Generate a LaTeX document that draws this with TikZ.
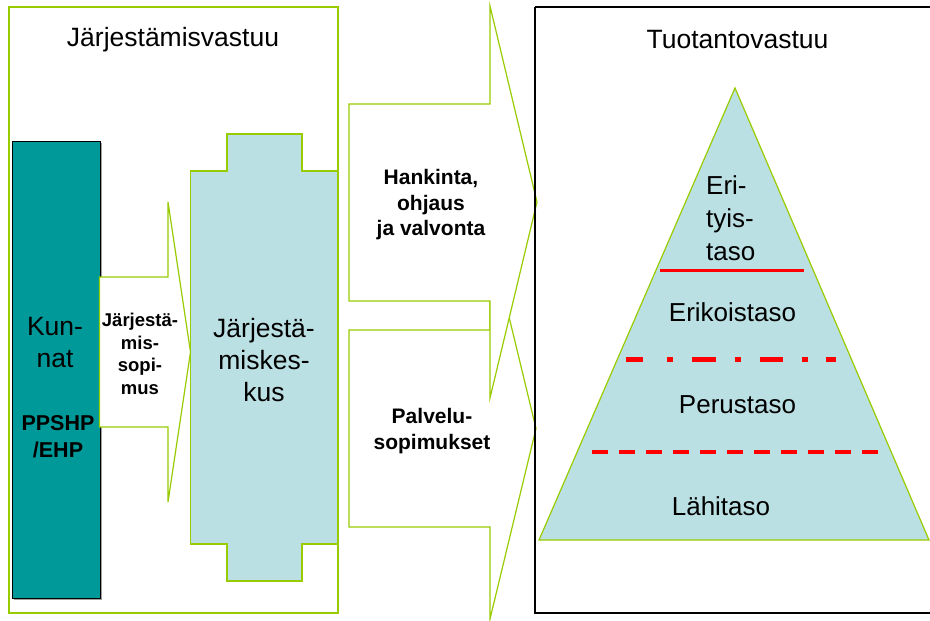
\documentclass[tikz,border=0pt]{standalone}
\usepackage{fontspec}
\setmainfont{Liberation Sans}
\definecolor{lgreen}{HTML}{99CC00}
\definecolor{lblue}{HTML}{BBE0E3}
\definecolor{tealbox}{HTML}{009999}
\definecolor{redline}{HTML}{FF0000}
\newcommand\fsBig{\fontsize{26.5}{32}\selectfont}
\newcommand\fsLab{\fontsize{21}{25.5}\selectfont\bfseries}
\newcommand\fsSmall{\fontsize{18.5}{22.5}\selectfont\bfseries}
\begin{document}
\begin{tikzpicture}[x=1pt,y=-1pt,
  greenline/.style={draw=lgreen,line width=1.2pt,line join=miter},
  arrowshape/.style={greenline,fill=white},
  txt/.style={inner sep=0pt,align=center,text=black}]
\useasboundingbox (0,0) rectangle (930,621);
\fill[white] (0,0) rectangle (930,621);

% left frame
\draw[greenline] (9,7) rectangle (338,613);
\node[txt,font=\fsBig] (jv) at (173,40) {Järjestämisvastuu};

% Kunnat box
\fill[gray!75] (14,143) rectangle (102,600);
\draw[fill=tealbox,draw=black,line width=0.8pt] (12,141) rectangle (100,598);
\node[txt,font=\fsBig] (kunnat) at (55,343) {Kun-\\nat};
\node[txt,font=\fsLab\fontsize{21.5}{27}\selectfont] (ppshp) at (58,437) {PPSHP\\/EHP};

% small arrow
\draw[arrowshape] (99.5,277) -- (168,277) -- (168,202) -- (190.5,352) -- (168,502) -- (168,427) -- (99.5,427) -- cycle;
\node[txt,font=\fsSmall] (jsop) at (140,354) {Järjestä-\\mis-\\sopi-\\mus};

% Jarjestamiskeskus
\draw[greenline,fill=lblue] (190.5,171) -- (227,171) -- (227,134) -- (302,134) -- (302,171) -- (338,171)
  -- (338,544) -- (302,544) -- (302,581) -- (227,581) -- (227,544) -- (190.5,544) -- cycle;
\node[txt,font=\fsBig] (jk) at (264,360) {Järjestä-\\miskes-\\kus};

% big arrows
\draw[arrowshape] (349,330) -- (490,330) -- (490,238) -- (536,428.5) -- (490,619) -- (490,527) -- (349,527) -- cycle;
\draw[arrowshape] (349,104) -- (490,104) -- (490,6) -- (537,202) -- (490,398) -- (490,301) -- (349,301) -- cycle;
\node[txt,font=\fsLab] (hank) at (431,205) {Hankinta,\\ohjaus\\ja valvonta};
\node[txt,font=\fsLab] (palv) at (432,431) {Palvelu-\\sopimukset};

% pyramid
\draw[greenline,fill=lblue] (735,88) -- (539,540) -- (929,540) -- cycle;
\node[txt,font=\fsBig] (tv) at (737.5,40) {Tuotantovastuu};
\node[txt,font=\fsBig\fontsize{26}{33}\selectfont,align=left,anchor=west] (eri) at (706,218) {Eri-\\tyis-\\taso};
\node[txt,font=\fsBig\fontsize{26}{31}\selectfont] (erik) at (732.5,312) {Erikoistaso};
\node[txt,font=\fsBig\fontsize{26}{31}\selectfont] (perus) at (737.5,405) {Perustaso};
\node[txt,font=\fsBig\fontsize{26}{31}\selectfont] (lahi) at (721,506) {Lähitaso};

\coordinate (s1) at (660,270.5); \coordinate (s2) at (804,270.5);
\coordinate (d1) at (626,359); \coordinate (d2) at (836,359);
\coordinate (e1) at (592,452); \coordinate (e2) at (879,452);
\draw[redline,line width=3pt] (s1) -- (s2);
\draw[redline,line width=5pt,dash pattern=on 17pt off 24pt on 6pt off 18.5pt on 24pt off 19pt on 6pt off 19pt on 23pt off 19pt on 6pt off 18pt on 11pt off 50pt] (d1) -- (d2);
\draw[redline,line width=4pt,dash pattern=on 16pt off 11pt] (e1) -- (e2);

% right frame
\draw[black,line width=1.4pt] (535,7) -- (535,613) -- (932,613);
\draw[black,line width=1.4pt] (535,7) -- (932,7);
\end{tikzpicture}
\end{document}
